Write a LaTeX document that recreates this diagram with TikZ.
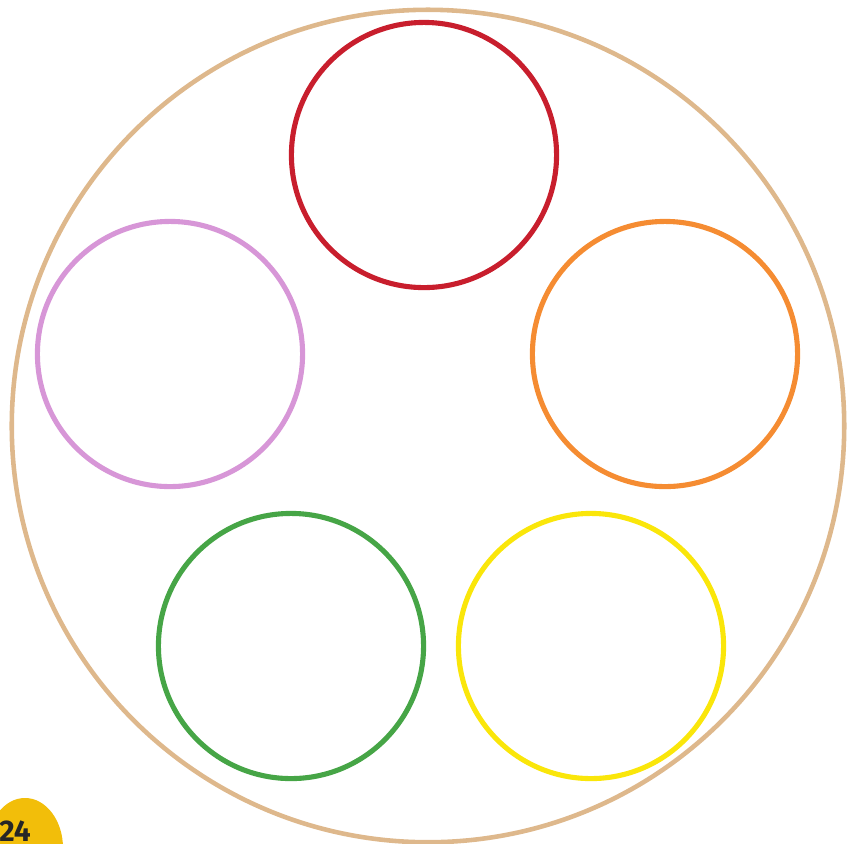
\documentclass[tikz,border=0pt]{standalone}
\usepackage{fontspec}
\setsansfont{Fira Sans}
\usepackage{xcolor}
\usetikzlibrary{positioning}
\definecolor{rim}{RGB}{222,184,140}
\definecolor{cred}{RGB}{200,30,45}
\definecolor{cpurple}{RGB}{215,150,215}
\definecolor{corange}{RGB}{245,140,50}
\definecolor{cgreen}{RGB}{70,165,70}
\definecolor{cyellow}{RGB}{250,230,10}
\definecolor{badge}{RGB}{242,190,10}

\begin{document}
\begin{tikzpicture}[
			x=0.01cm, y=-0.01cm,
			ring/.style={draw, circle, line width=1.45pt, minimum size=2.65cm, inner sep=0pt}, % one coloured ring
			plate/.style={draw=rim, circle, line width=1.3pt, minimum size=8.32cm, inner sep=0pt}, % big outer circle
		]
		\useasboundingbox (0,0) rectangle (847,844);
		\begin{scope}
			\clip (0,0) rectangle (847,844);

			% --- the big plate
			\node[plate] (plate) at (428,426) {};

			% --- five rings inside
			\node[ring, draw=cred]    (red)    at (424,155) {};
			\node[ring, draw=cpurple] (purple) at (170,354) {};
			\node[ring, draw=corange] (orange) at (665,354) {};
			\node[ring, draw=cgreen]  (green)  at (291,646) {};
			\node[ring, draw=cyellow] (yellow) at (591,646) {};

			% --- page badge in the corner
			\fill[badge] (25,848) ellipse [x radius=38, y radius=50];
			\node[font=\sffamily\bfseries\fontsize{8.5}{9}\selectfont, text=black!85, inner sep=0pt]
			(page) at (15,831) {24};
		\end{scope}
	\end{tikzpicture}
\end{document}
